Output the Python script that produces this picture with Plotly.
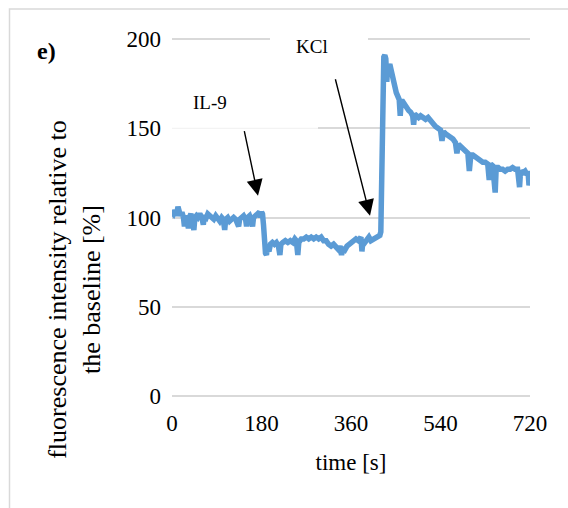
import plotly.graph_objects as go

# ---- data ----
time_s = [0, 3, 6, 9, 12, 14, 17, 20, 23, 25, 27, 30, 33, 35, 38, 41, 44, 46, 49, 52,
          56, 60, 63, 65, 69, 72, 76, 80, 84, 88, 92, 96, 100, 103, 106, 108, 112, 116, 120, 124,
          128, 131, 134, 136, 140, 144, 148, 150, 152, 156, 160, 162, 164, 168, 172, 176, 178, 180, 182, 184,
          186, 188, 190, 192, 195, 198, 202, 206, 210, 214, 217, 219, 223, 228, 233, 238, 243, 247, 250, 253,
          255, 260, 265, 270, 275, 280, 285, 290, 295, 300, 305, 310, 315, 320, 325, 330, 335, 338, 341, 344,
          348, 352, 356, 360, 365, 370, 375, 380, 382, 384, 388, 392, 396, 400, 405, 410, 414, 418, 420, 422,
          424, 426, 428, 430, 432, 434, 436, 438, 440, 442, 444, 446, 448, 451, 454, 457, 459, 461, 464, 468,
          472, 476, 480, 484, 486, 488, 492, 496, 500, 505, 510, 515, 520, 525, 530, 535, 540, 543, 546, 550,
          555, 560, 565, 570, 573, 576, 580, 585, 590, 595, 598, 601, 605, 610, 615, 620, 625, 630, 635, 638,
          641, 645, 648, 650, 652, 656, 660, 665, 670, 675, 680, 685, 690, 695, 699, 701, 705, 710, 714, 716,
          718, 720]
intensity = [103, 102, 104, 101, 106, 102, 101, 103, 100, 95, 101, 99, 94, 100, 102, 98, 93, 100, 101, 100,
             102, 100, 96, 101, 100, 102, 101, 100, 99, 101, 100, 98, 100, 99, 93, 99, 100, 98, 99, 100,
             99, 97, 95, 99, 100, 101, 99, 95, 100, 101, 98, 95, 100, 101, 102, 103, 100, 103, 102, 96,
             85, 80, 79, 84, 81, 85, 86, 85, 86, 84, 79, 85, 86, 87, 86, 87, 86, 88, 87, 79,
             86, 88, 88, 89, 88, 89, 88, 89, 88, 89, 87, 87, 85, 84, 85, 83, 82, 84, 79, 83,
             82, 84, 85, 86, 87, 88, 87, 89, 81, 87, 86, 88, 89, 87, 88, 89, 89, 90, 92, 140,
             180, 190, 191, 189, 176, 186, 184, 186, 183, 181, 180, 177, 175, 170, 168, 166, 157, 165, 165, 163,
             162, 160, 159, 157, 152, 158, 157, 156, 157, 156, 155, 156, 154, 152, 151, 150, 149, 143, 148, 147,
             146, 145, 144, 142, 136, 141, 140, 139, 138, 136, 126, 135, 135, 134, 133, 132, 131, 131, 130, 121,
             130, 129, 122, 114, 128, 128, 127, 127, 126, 127, 127, 128, 127, 127, 117, 126, 125, 126, 124, 126,
             118, 121]
x_ticks = [0, 180, 360, 540, 720]
y_ticks = [0, 50, 100, 150, 200]

FONT = "Liberation Serif"

# plot area in pixels (y range padded slightly so edge gridlines are drawn)
YLO, YHI = -0.6, 200.6
PXU = (396 - 39.5) / 200.0
L, R = 172, 530
T = 39.5 - (YHI - 200) * PXU
B = 396 + (0 - YLO) * PXU
W, H = 568, 508

def px(xp):
    return (xp - L) / (R - L)

def py(yp):
    return (B - yp) / (B - T)

fig = go.Figure()
fig.add_trace(go.Scatter(x=time_s, y=intensity, mode="lines",
                         line=dict(color="#5B9BD5", width=5.5), hoverinfo="skip"))

shapes = [
    # outer chart border (left and top only visible)
    dict(type="path", xref="paper", yref="paper",
         path=f"M {px(9.5)},{py(520)} L {px(9.5)},{py(9.5)} L {px(575)},{py(9.5)}",
         line=dict(color="#d9d9d9", width=1.5)),
    # white label boxes hiding gridlines
    dict(type="line", xref="paper", yref="y", x0=px(170), x1=px(318), y0=150, y1=150,
         line=dict(color="white", width=3), layer="above"),
    dict(type="line", xref="paper", yref="y", x0=px(172), x1=px(318), y0=150, y1=150,
         line=dict(color="#f0f0f0", width=1), layer="above"),
    dict(type="line", xref="paper", yref="y", x0=px(270), x1=px(368), y0=200, y1=200,
         line=dict(color="white", width=3), layer="above"),
]

annotations = [
    dict(text="<b>e)</b>", xref="paper", yref="paper", x=px(46), y=py(51),
         xanchor="center", yanchor="middle",
         showarrow=False, font=dict(family=FONT, size=24, color="black")),
    dict(text="IL-9", xref="paper", yref="paper", x=px(210), y=py(103),
         xanchor="center", yanchor="middle",
         showarrow=False, font=dict(family=FONT, size=19, color="black")),
    dict(text="KCl", xref="paper", yref="paper", x=px(312), y=py(47),
         xanchor="center", yanchor="middle",
         showarrow=False, font=dict(family=FONT, size=19, color="black")),
    dict(text="", xref="paper", yref="paper", x=px(258), y=py(196),
         ax=-14, ay=-66, showarrow=True, arrowhead=2, arrowsize=2.3,
         arrowwidth=1.4, arrowcolor="black"),
    dict(text="", xref="paper", yref="paper", x=px(370), y=py(216),
         ax=-35, ay=-138, showarrow=True, arrowhead=2, arrowsize=2.3,
         arrowwidth=1.4, arrowcolor="black"),
    dict(text="fluorescence intensity relative to<br>the baseline [%]",
         xref="paper", yref="paper", x=px(75), y=py(290), textangle=-90,
         xanchor="center", yanchor="middle",
         showarrow=False, font=dict(family=FONT, size=26, color="black")),
]

fig.update_layout(
    width=W, height=H,
    margin=dict(l=L, r=W - R, t=T, b=H - B, pad=0),
    paper_bgcolor="white", plot_bgcolor="white",
    showlegend=False,
    font=dict(family=FONT, size=23, color="black"),
    xaxis=dict(range=[0, 720], tickvals=x_ticks, ticktext=[str(v) for v in x_ticks],
               showgrid=False, zeroline=False, showline=False, ticks="",
               ticklabelstandoff=10,
               title=dict(text="time [s]", font=dict(family=FONT, size=23), standoff=18)),
    yaxis=dict(range=[YLO, YHI], tickvals=y_ticks, ticktext=[str(v) for v in y_ticks],
               showgrid=True, gridcolor="#d9d9d9", gridwidth=1.5,
               zeroline=False, showline=False, ticks="", ticklabelstandoff=10),
    shapes=shapes,
    annotations=annotations,
)

fig.write_html("out.html", config={"displayModeBar": False},
               post_script="document.body.style.margin='0';document.body.style.overflow='hidden';")
